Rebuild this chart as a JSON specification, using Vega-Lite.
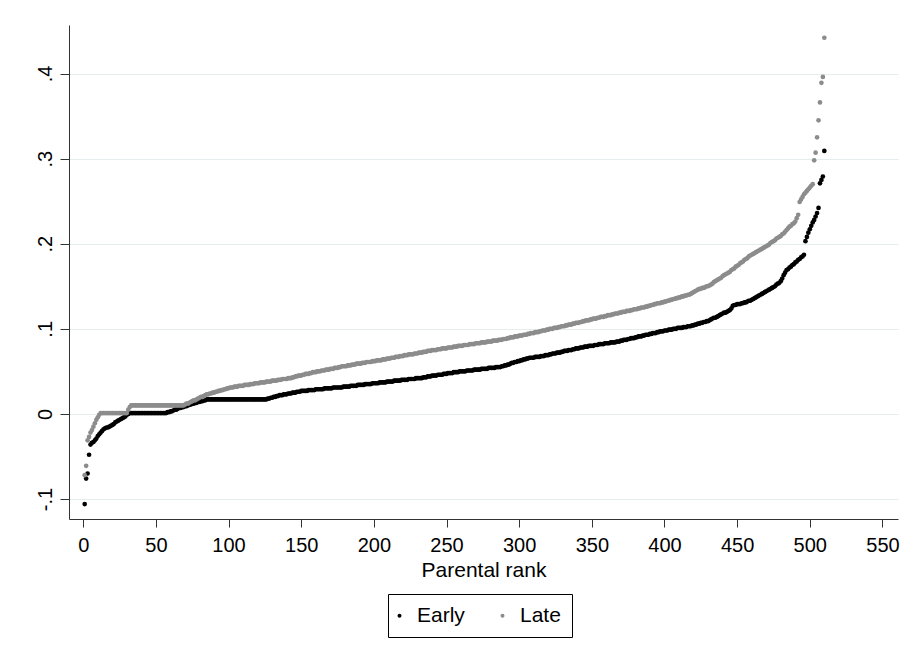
{"$schema":"https://vega.github.io/schema/vega-lite/v6.json","autosize":{"type":"none"},"padding":{"left":69,"top":25,"right":22,"bottom":147},"width":829,"height":494,"background":"white","config":{"font":"Liberation Sans","view":{"stroke":null}},
"data":{"values":[
{"rank":1,"Early":-0.106,"Late":-0.072},{"rank":2,"Early":-0.076,"Late":-0.061},{"rank":3,"Early":-0.070,"Late":-0.031},{"rank":4,"Early":-0.048,"Late":-0.027},{"rank":5,"Early":-0.036,"Late":-0.022},{"rank":6,"Early":-0.034,"Late":-0.019},{"rank":7,"Early":-0.033,"Late":-0.015},{"rank":8,"Early":-0.031,"Late":-0.011},{"rank":9,"Early":-0.029,"Late":-0.007},{"rank":10,"Early":-0.026,"Late":-0.004},
{"rank":11,"Early":-0.024,"Late":-0.001},{"rank":12,"Early":-0.022,"Late":0.001},{"rank":13,"Early":-0.020,"Late":0.001},{"rank":14,"Early":-0.018,"Late":0.001},{"rank":15,"Early":-0.017,"Late":0.001},{"rank":16,"Early":-0.016,"Late":0.001},{"rank":17,"Early":-0.016,"Late":0.001},{"rank":18,"Early":-0.015,"Late":0.001},{"rank":19,"Early":-0.014,"Late":0.001},{"rank":20,"Early":-0.013,"Late":0.001},
{"rank":21,"Early":-0.012,"Late":0.001},{"rank":22,"Early":-0.010,"Late":0.001},{"rank":23,"Early":-0.009,"Late":0.001},{"rank":24,"Early":-0.008,"Late":0.001},{"rank":25,"Early":-0.007,"Late":0.001},{"rank":26,"Early":-0.006,"Late":0.001},{"rank":27,"Early":-0.005,"Late":0.001},{"rank":28,"Early":-0.004,"Late":0.001},{"rank":29,"Early":-0.003,"Late":0.001},{"rank":30,"Early":-0.001,"Late":0.001},
{"rank":31,"Early":0.000,"Late":0.005},{"rank":32,"Early":0.001,"Late":0.008},{"rank":33,"Early":0.001,"Late":0.010},{"rank":34,"Early":0.001,"Late":0.010},{"rank":35,"Early":0.001,"Late":0.010},{"rank":36,"Early":0.001,"Late":0.010},{"rank":37,"Early":0.001,"Late":0.010},{"rank":38,"Early":0.001,"Late":0.010},{"rank":39,"Early":0.001,"Late":0.010},{"rank":40,"Early":0.001,"Late":0.010},
{"rank":41,"Early":0.001,"Late":0.010},{"rank":42,"Early":0.001,"Late":0.010},{"rank":43,"Early":0.001,"Late":0.010},{"rank":44,"Early":0.001,"Late":0.010},{"rank":45,"Early":0.001,"Late":0.010},{"rank":46,"Early":0.001,"Late":0.010},{"rank":47,"Early":0.001,"Late":0.010},{"rank":48,"Early":0.001,"Late":0.010},{"rank":49,"Early":0.001,"Late":0.010},{"rank":50,"Early":0.001,"Late":0.010},
{"rank":51,"Early":0.001,"Late":0.010},{"rank":52,"Early":0.001,"Late":0.010},{"rank":53,"Early":0.001,"Late":0.010},{"rank":54,"Early":0.001,"Late":0.010},{"rank":55,"Early":0.001,"Late":0.010},{"rank":56,"Early":0.001,"Late":0.010},{"rank":57,"Early":0.001,"Late":0.010},{"rank":58,"Early":0.002,"Late":0.010},{"rank":59,"Early":0.002,"Late":0.010},{"rank":60,"Early":0.003,"Late":0.010},
{"rank":61,"Early":0.003,"Late":0.010},{"rank":62,"Early":0.004,"Late":0.010},{"rank":63,"Early":0.005,"Late":0.010},{"rank":64,"Early":0.005,"Late":0.010},{"rank":65,"Early":0.006,"Late":0.010},{"rank":66,"Early":0.007,"Late":0.010},{"rank":67,"Early":0.007,"Late":0.010},{"rank":68,"Early":0.008,"Late":0.010},{"rank":69,"Early":0.008,"Late":0.010},{"rank":70,"Early":0.009,"Late":0.011},
{"rank":71,"Early":0.009,"Late":0.012},{"rank":72,"Early":0.010,"Late":0.012},{"rank":73,"Early":0.011,"Late":0.013},{"rank":74,"Early":0.011,"Late":0.014},{"rank":75,"Early":0.012,"Late":0.015},{"rank":76,"Early":0.012,"Late":0.016},{"rank":77,"Early":0.013,"Late":0.016},{"rank":78,"Early":0.013,"Late":0.017},{"rank":79,"Early":0.014,"Late":0.018},{"rank":80,"Early":0.014,"Late":0.019},
{"rank":81,"Early":0.015,"Late":0.020},{"rank":82,"Early":0.015,"Late":0.020},{"rank":83,"Early":0.016,"Late":0.021},{"rank":84,"Early":0.016,"Late":0.022},{"rank":85,"Early":0.017,"Late":0.023},{"rank":86,"Early":0.017,"Late":0.023},{"rank":87,"Early":0.017,"Late":0.024},{"rank":88,"Early":0.017,"Late":0.024},{"rank":89,"Early":0.017,"Late":0.025},{"rank":90,"Early":0.017,"Late":0.025},
{"rank":91,"Early":0.017,"Late":0.026},{"rank":92,"Early":0.017,"Late":0.026},{"rank":93,"Early":0.017,"Late":0.027},{"rank":94,"Early":0.017,"Late":0.027},{"rank":95,"Early":0.017,"Late":0.028},{"rank":96,"Early":0.017,"Late":0.028},{"rank":97,"Early":0.017,"Late":0.029},{"rank":98,"Early":0.017,"Late":0.029},{"rank":99,"Early":0.017,"Late":0.030},{"rank":100,"Early":0.017,"Late":0.030},
{"rank":101,"Early":0.017,"Late":0.031},{"rank":102,"Early":0.017,"Late":0.031},{"rank":103,"Early":0.017,"Late":0.031},{"rank":104,"Early":0.017,"Late":0.032},{"rank":105,"Early":0.017,"Late":0.032},{"rank":106,"Early":0.017,"Late":0.032},{"rank":107,"Early":0.017,"Late":0.033},{"rank":108,"Early":0.017,"Late":0.033},{"rank":109,"Early":0.017,"Late":0.033},{"rank":110,"Early":0.017,"Late":0.033},
{"rank":111,"Early":0.017,"Late":0.034},{"rank":112,"Early":0.017,"Late":0.034},{"rank":113,"Early":0.017,"Late":0.034},{"rank":114,"Early":0.017,"Late":0.034},{"rank":115,"Early":0.017,"Late":0.035},{"rank":116,"Early":0.017,"Late":0.035},{"rank":117,"Early":0.017,"Late":0.035},{"rank":118,"Early":0.017,"Late":0.036},{"rank":119,"Early":0.017,"Late":0.036},{"rank":120,"Early":0.017,"Late":0.036},
{"rank":121,"Early":0.017,"Late":0.036},{"rank":122,"Early":0.017,"Late":0.037},{"rank":123,"Early":0.017,"Late":0.037},{"rank":124,"Early":0.017,"Late":0.037},{"rank":125,"Early":0.017,"Late":0.037},{"rank":126,"Early":0.017,"Late":0.038},{"rank":127,"Early":0.018,"Late":0.038},{"rank":128,"Early":0.018,"Late":0.038},{"rank":129,"Early":0.019,"Late":0.038},{"rank":130,"Early":0.019,"Late":0.039},
{"rank":131,"Early":0.020,"Late":0.039},{"rank":132,"Early":0.020,"Late":0.039},{"rank":133,"Early":0.021,"Late":0.039},{"rank":134,"Early":0.021,"Late":0.040},{"rank":135,"Early":0.022,"Late":0.040},{"rank":136,"Early":0.022,"Late":0.040},{"rank":137,"Early":0.022,"Late":0.041},{"rank":138,"Early":0.023,"Late":0.041},{"rank":139,"Early":0.023,"Late":0.041},{"rank":140,"Early":0.023,"Late":0.041},
{"rank":141,"Early":0.024,"Late":0.042},{"rank":142,"Early":0.024,"Late":0.042},{"rank":143,"Early":0.024,"Late":0.042},{"rank":144,"Early":0.025,"Late":0.043},{"rank":145,"Early":0.025,"Late":0.043},{"rank":146,"Early":0.025,"Late":0.044},{"rank":147,"Early":0.026,"Late":0.044},{"rank":148,"Early":0.026,"Late":0.045},{"rank":149,"Early":0.026,"Late":0.045},{"rank":150,"Early":0.027,"Late":0.045},
{"rank":151,"Early":0.027,"Late":0.046},{"rank":152,"Early":0.027,"Late":0.046},{"rank":153,"Early":0.027,"Late":0.047},{"rank":154,"Early":0.027,"Late":0.047},{"rank":155,"Early":0.028,"Late":0.047},{"rank":156,"Early":0.028,"Late":0.048},{"rank":157,"Early":0.028,"Late":0.048},{"rank":158,"Early":0.028,"Late":0.049},{"rank":159,"Early":0.028,"Late":0.049},{"rank":160,"Early":0.029,"Late":0.049},
{"rank":161,"Early":0.029,"Late":0.050},{"rank":162,"Early":0.029,"Late":0.050},{"rank":163,"Early":0.029,"Late":0.050},{"rank":164,"Early":0.029,"Late":0.051},{"rank":165,"Early":0.029,"Late":0.051},{"rank":166,"Early":0.030,"Late":0.051},{"rank":167,"Early":0.030,"Late":0.052},{"rank":168,"Early":0.030,"Late":0.052},{"rank":169,"Early":0.030,"Late":0.052},{"rank":170,"Early":0.030,"Late":0.053},
{"rank":171,"Early":0.030,"Late":0.053},{"rank":172,"Early":0.031,"Late":0.053},{"rank":173,"Early":0.031,"Late":0.054},{"rank":174,"Early":0.031,"Late":0.054},{"rank":175,"Early":0.031,"Late":0.054},{"rank":176,"Early":0.031,"Late":0.055},{"rank":177,"Early":0.031,"Late":0.055},{"rank":178,"Early":0.031,"Late":0.056},{"rank":179,"Early":0.032,"Late":0.056},{"rank":180,"Early":0.032,"Late":0.056},
{"rank":181,"Early":0.032,"Late":0.056},{"rank":182,"Early":0.032,"Late":0.057},{"rank":183,"Early":0.032,"Late":0.057},{"rank":184,"Early":0.033,"Late":0.057},{"rank":185,"Early":0.033,"Late":0.058},{"rank":186,"Early":0.033,"Late":0.058},{"rank":187,"Early":0.033,"Late":0.058},{"rank":188,"Early":0.033,"Late":0.059},{"rank":189,"Early":0.034,"Late":0.059},{"rank":190,"Early":0.034,"Late":0.059},
{"rank":191,"Early":0.034,"Late":0.059},{"rank":192,"Early":0.034,"Late":0.060},{"rank":193,"Early":0.034,"Late":0.060},{"rank":194,"Early":0.035,"Late":0.060},{"rank":195,"Early":0.035,"Late":0.061},{"rank":196,"Early":0.035,"Late":0.061},{"rank":197,"Early":0.035,"Late":0.061},{"rank":198,"Early":0.035,"Late":0.061},{"rank":199,"Early":0.036,"Late":0.062},{"rank":200,"Early":0.036,"Late":0.062},
{"rank":201,"Early":0.036,"Late":0.062},{"rank":202,"Early":0.036,"Late":0.063},{"rank":203,"Early":0.036,"Late":0.063},{"rank":204,"Early":0.037,"Late":0.063},{"rank":205,"Early":0.037,"Late":0.063},{"rank":206,"Early":0.037,"Late":0.064},{"rank":207,"Early":0.037,"Late":0.064},{"rank":208,"Early":0.037,"Late":0.064},{"rank":209,"Early":0.038,"Late":0.065},{"rank":210,"Early":0.038,"Late":0.065},
{"rank":211,"Early":0.038,"Late":0.065},{"rank":212,"Early":0.038,"Late":0.066},{"rank":213,"Early":0.038,"Late":0.066},{"rank":214,"Early":0.039,"Late":0.066},{"rank":215,"Early":0.039,"Late":0.067},{"rank":216,"Early":0.039,"Late":0.067},{"rank":217,"Early":0.039,"Late":0.067},{"rank":218,"Early":0.039,"Late":0.068},{"rank":219,"Early":0.040,"Late":0.068},{"rank":220,"Early":0.040,"Late":0.068},
{"rank":221,"Early":0.040,"Late":0.069},{"rank":222,"Early":0.040,"Late":0.069},{"rank":223,"Early":0.040,"Late":0.069},{"rank":224,"Early":0.041,"Late":0.070},{"rank":225,"Early":0.041,"Late":0.070},{"rank":226,"Early":0.041,"Late":0.070},{"rank":227,"Early":0.041,"Late":0.070},{"rank":228,"Early":0.041,"Late":0.071},{"rank":229,"Early":0.042,"Late":0.071},{"rank":230,"Early":0.042,"Late":0.071},
{"rank":231,"Early":0.042,"Late":0.072},{"rank":232,"Early":0.042,"Late":0.072},{"rank":233,"Early":0.042,"Late":0.072},{"rank":234,"Early":0.043,"Late":0.073},{"rank":235,"Early":0.043,"Late":0.073},{"rank":236,"Early":0.043,"Late":0.073},{"rank":237,"Early":0.044,"Late":0.074},{"rank":238,"Early":0.044,"Late":0.074},{"rank":239,"Early":0.044,"Late":0.074},{"rank":240,"Early":0.045,"Late":0.075},
{"rank":241,"Early":0.045,"Late":0.075},{"rank":242,"Early":0.045,"Late":0.075},{"rank":243,"Early":0.045,"Late":0.075},{"rank":244,"Early":0.046,"Late":0.076},{"rank":245,"Early":0.046,"Late":0.076},{"rank":246,"Early":0.046,"Late":0.076},{"rank":247,"Early":0.046,"Late":0.077},{"rank":248,"Early":0.047,"Late":0.077},{"rank":249,"Early":0.047,"Late":0.077},{"rank":250,"Early":0.047,"Late":0.077},
{"rank":251,"Early":0.048,"Late":0.078},{"rank":252,"Early":0.048,"Late":0.078},{"rank":253,"Early":0.048,"Late":0.078},{"rank":254,"Early":0.048,"Late":0.078},{"rank":255,"Early":0.049,"Late":0.079},{"rank":256,"Early":0.049,"Late":0.079},{"rank":257,"Early":0.049,"Late":0.079},{"rank":258,"Early":0.049,"Late":0.080},{"rank":259,"Early":0.050,"Late":0.080},{"rank":260,"Early":0.050,"Late":0.080},
{"rank":261,"Early":0.050,"Late":0.080},{"rank":262,"Early":0.050,"Late":0.081},{"rank":263,"Early":0.050,"Late":0.081},{"rank":264,"Early":0.051,"Late":0.081},{"rank":265,"Early":0.051,"Late":0.081},{"rank":266,"Early":0.051,"Late":0.082},{"rank":267,"Early":0.051,"Late":0.082},{"rank":268,"Early":0.051,"Late":0.082},{"rank":269,"Early":0.052,"Late":0.082},{"rank":270,"Early":0.052,"Late":0.083},
{"rank":271,"Early":0.052,"Late":0.083},{"rank":272,"Early":0.052,"Late":0.083},{"rank":273,"Early":0.052,"Late":0.083},{"rank":274,"Early":0.053,"Late":0.084},{"rank":275,"Early":0.053,"Late":0.084},{"rank":276,"Early":0.053,"Late":0.084},{"rank":277,"Early":0.053,"Late":0.084},{"rank":278,"Early":0.053,"Late":0.085},{"rank":279,"Early":0.054,"Late":0.085},{"rank":280,"Early":0.054,"Late":0.085},
{"rank":281,"Early":0.054,"Late":0.085},{"rank":282,"Early":0.054,"Late":0.086},{"rank":283,"Early":0.054,"Late":0.086},{"rank":284,"Early":0.055,"Late":0.086},{"rank":285,"Early":0.055,"Late":0.086},{"rank":286,"Early":0.055,"Late":0.087},{"rank":287,"Early":0.055,"Late":0.087},{"rank":288,"Early":0.056,"Late":0.087},{"rank":289,"Early":0.056,"Late":0.088},{"rank":290,"Early":0.057,"Late":0.088},
{"rank":291,"Early":0.057,"Late":0.088},{"rank":292,"Early":0.058,"Late":0.089},{"rank":293,"Early":0.058,"Late":0.089},{"rank":294,"Early":0.059,"Late":0.090},{"rank":295,"Early":0.060,"Late":0.090},{"rank":296,"Early":0.060,"Late":0.090},{"rank":297,"Early":0.061,"Late":0.091},{"rank":298,"Early":0.061,"Late":0.091},{"rank":299,"Early":0.062,"Late":0.091},{"rank":300,"Early":0.062,"Late":0.092},
{"rank":301,"Early":0.063,"Late":0.092},{"rank":302,"Early":0.063,"Late":0.092},{"rank":303,"Early":0.064,"Late":0.093},{"rank":304,"Early":0.064,"Late":0.093},{"rank":305,"Early":0.065,"Late":0.093},{"rank":306,"Early":0.065,"Late":0.094},{"rank":307,"Early":0.066,"Late":0.094},{"rank":308,"Early":0.066,"Late":0.095},{"rank":309,"Early":0.066,"Late":0.095},{"rank":310,"Early":0.066,"Late":0.095},
{"rank":311,"Early":0.067,"Late":0.096},{"rank":312,"Early":0.067,"Late":0.096},{"rank":313,"Early":0.067,"Late":0.096},{"rank":314,"Early":0.067,"Late":0.097},{"rank":315,"Early":0.068,"Late":0.097},{"rank":316,"Early":0.068,"Late":0.098},{"rank":317,"Early":0.068,"Late":0.098},{"rank":318,"Early":0.069,"Late":0.098},{"rank":319,"Early":0.069,"Late":0.099},{"rank":320,"Early":0.069,"Late":0.099},
{"rank":321,"Early":0.070,"Late":0.100},{"rank":322,"Early":0.070,"Late":0.100},{"rank":323,"Early":0.071,"Late":0.100},{"rank":324,"Early":0.071,"Late":0.101},{"rank":325,"Early":0.071,"Late":0.101},{"rank":326,"Early":0.072,"Late":0.101},{"rank":327,"Early":0.072,"Late":0.102},{"rank":328,"Early":0.072,"Late":0.102},{"rank":329,"Early":0.073,"Late":0.103},{"rank":330,"Early":0.073,"Late":0.103},
{"rank":331,"Early":0.074,"Late":0.103},{"rank":332,"Early":0.074,"Late":0.104},{"rank":333,"Early":0.074,"Late":0.104},{"rank":334,"Early":0.075,"Late":0.105},{"rank":335,"Early":0.075,"Late":0.105},{"rank":336,"Early":0.075,"Late":0.105},{"rank":337,"Early":0.076,"Late":0.106},{"rank":338,"Early":0.076,"Late":0.106},{"rank":339,"Early":0.077,"Late":0.107},{"rank":340,"Early":0.077,"Late":0.107},
{"rank":341,"Early":0.077,"Late":0.107},{"rank":342,"Early":0.078,"Late":0.108},{"rank":343,"Early":0.078,"Late":0.108},{"rank":344,"Early":0.078,"Late":0.109},{"rank":345,"Early":0.079,"Late":0.109},{"rank":346,"Early":0.079,"Late":0.110},{"rank":347,"Early":0.079,"Late":0.110},{"rank":348,"Early":0.080,"Late":0.110},{"rank":349,"Early":0.080,"Late":0.111},{"rank":350,"Early":0.080,"Late":0.111},
{"rank":351,"Early":0.080,"Late":0.112},{"rank":352,"Early":0.081,"Late":0.112},{"rank":353,"Early":0.081,"Late":0.112},{"rank":354,"Early":0.081,"Late":0.113},{"rank":355,"Early":0.082,"Late":0.113},{"rank":356,"Early":0.082,"Late":0.114},{"rank":357,"Early":0.082,"Late":0.114},{"rank":358,"Early":0.082,"Late":0.114},{"rank":359,"Early":0.083,"Late":0.115},{"rank":360,"Early":0.083,"Late":0.115},
{"rank":361,"Early":0.083,"Late":0.116},{"rank":362,"Early":0.083,"Late":0.116},{"rank":363,"Early":0.084,"Late":0.116},{"rank":364,"Early":0.084,"Late":0.117},{"rank":365,"Early":0.084,"Late":0.117},{"rank":366,"Early":0.084,"Late":0.118},{"rank":367,"Early":0.085,"Late":0.118},{"rank":368,"Early":0.085,"Late":0.118},{"rank":369,"Early":0.085,"Late":0.119},{"rank":370,"Early":0.086,"Late":0.119},
{"rank":371,"Early":0.086,"Late":0.120},{"rank":372,"Early":0.087,"Late":0.120},{"rank":373,"Early":0.087,"Late":0.120},{"rank":374,"Early":0.087,"Late":0.121},{"rank":375,"Early":0.088,"Late":0.121},{"rank":376,"Early":0.088,"Late":0.121},{"rank":377,"Early":0.089,"Late":0.122},{"rank":378,"Early":0.089,"Late":0.122},{"rank":379,"Early":0.089,"Late":0.123},{"rank":380,"Early":0.090,"Late":0.123},
{"rank":381,"Early":0.090,"Late":0.123},{"rank":382,"Early":0.091,"Late":0.124},{"rank":383,"Early":0.091,"Late":0.124},{"rank":384,"Early":0.091,"Late":0.125},{"rank":385,"Early":0.092,"Late":0.125},{"rank":386,"Early":0.092,"Late":0.125},{"rank":387,"Early":0.093,"Late":0.126},{"rank":388,"Early":0.093,"Late":0.126},{"rank":389,"Early":0.093,"Late":0.127},{"rank":390,"Early":0.094,"Late":0.127},
{"rank":391,"Early":0.094,"Late":0.128},{"rank":392,"Early":0.095,"Late":0.128},{"rank":393,"Early":0.095,"Late":0.129},{"rank":394,"Early":0.095,"Late":0.129},{"rank":395,"Early":0.096,"Late":0.130},{"rank":396,"Early":0.096,"Late":0.130},{"rank":397,"Early":0.097,"Late":0.130},{"rank":398,"Early":0.097,"Late":0.131},{"rank":399,"Early":0.097,"Late":0.131},{"rank":400,"Early":0.098,"Late":0.132},
{"rank":401,"Early":0.098,"Late":0.132},{"rank":402,"Early":0.098,"Late":0.133},{"rank":403,"Early":0.099,"Late":0.133},{"rank":404,"Early":0.099,"Late":0.134},{"rank":405,"Early":0.099,"Late":0.134},{"rank":406,"Early":0.100,"Late":0.135},{"rank":407,"Early":0.100,"Late":0.135},{"rank":408,"Early":0.100,"Late":0.136},{"rank":409,"Early":0.101,"Late":0.136},{"rank":410,"Early":0.101,"Late":0.137},
{"rank":411,"Early":0.101,"Late":0.137},{"rank":412,"Early":0.101,"Late":0.138},{"rank":413,"Early":0.102,"Late":0.138},{"rank":414,"Early":0.102,"Late":0.139},{"rank":415,"Early":0.102,"Late":0.139},{"rank":416,"Early":0.103,"Late":0.140},{"rank":417,"Early":0.103,"Late":0.140},{"rank":418,"Early":0.103,"Late":0.141},{"rank":419,"Early":0.104,"Late":0.142},{"rank":420,"Early":0.104,"Late":0.143},
{"rank":421,"Early":0.105,"Late":0.144},{"rank":422,"Early":0.105,"Late":0.145},{"rank":423,"Early":0.106,"Late":0.146},{"rank":424,"Early":0.106,"Late":0.147},{"rank":425,"Early":0.107,"Late":0.147},{"rank":426,"Early":0.107,"Late":0.148},{"rank":427,"Early":0.108,"Late":0.148},{"rank":428,"Early":0.108,"Late":0.149},{"rank":429,"Early":0.109,"Late":0.150},{"rank":430,"Early":0.109,"Late":0.150},
{"rank":431,"Early":0.110,"Late":0.151},{"rank":432,"Early":0.111,"Late":0.152},{"rank":433,"Early":0.112,"Late":0.153},{"rank":434,"Early":0.113,"Late":0.155},{"rank":435,"Early":0.113,"Late":0.156},{"rank":436,"Early":0.114,"Late":0.157},{"rank":437,"Early":0.115,"Late":0.158},{"rank":438,"Early":0.116,"Late":0.159},{"rank":439,"Early":0.117,"Late":0.160},{"rank":440,"Early":0.118,"Late":0.162},
{"rank":441,"Early":0.119,"Late":0.163},{"rank":442,"Early":0.119,"Late":0.164},{"rank":443,"Early":0.120,"Late":0.165},{"rank":444,"Early":0.121,"Late":0.166},{"rank":445,"Early":0.122,"Late":0.167},{"rank":446,"Early":0.124,"Late":0.169},{"rank":447,"Early":0.127,"Late":0.170},{"rank":448,"Early":0.128,"Late":0.171},{"rank":449,"Early":0.128,"Late":0.173},{"rank":450,"Early":0.129,"Late":0.174},
{"rank":451,"Early":0.129,"Late":0.175},{"rank":452,"Early":0.129,"Late":0.177},{"rank":453,"Early":0.130,"Late":0.178},{"rank":454,"Early":0.130,"Late":0.179},{"rank":455,"Early":0.131,"Late":0.181},{"rank":456,"Early":0.131,"Late":0.182},{"rank":457,"Early":0.132,"Late":0.183},{"rank":458,"Early":0.133,"Late":0.185},{"rank":459,"Early":0.133,"Late":0.186},{"rank":460,"Early":0.134,"Late":0.187},
{"rank":461,"Early":0.135,"Late":0.188},{"rank":462,"Early":0.136,"Late":0.189},{"rank":463,"Early":0.137,"Late":0.190},{"rank":464,"Early":0.138,"Late":0.191},{"rank":465,"Early":0.139,"Late":0.192},{"rank":466,"Early":0.140,"Late":0.193},{"rank":467,"Early":0.141,"Late":0.194},{"rank":468,"Early":0.142,"Late":0.195},{"rank":469,"Early":0.143,"Late":0.196},{"rank":470,"Early":0.144,"Late":0.197},
{"rank":471,"Early":0.145,"Late":0.198},{"rank":472,"Early":0.146,"Late":0.199},{"rank":473,"Early":0.147,"Late":0.201},{"rank":474,"Early":0.148,"Late":0.202},{"rank":475,"Early":0.149,"Late":0.203},{"rank":476,"Early":0.150,"Late":0.204},{"rank":477,"Early":0.152,"Late":0.206},{"rank":478,"Early":0.153,"Late":0.207},{"rank":479,"Early":0.154,"Late":0.208},{"rank":480,"Early":0.156,"Late":0.209},
{"rank":481,"Early":0.159,"Late":0.211},{"rank":482,"Early":0.163,"Late":0.212},{"rank":483,"Early":0.166,"Late":0.214},{"rank":484,"Early":0.169,"Late":0.216},{"rank":485,"Early":0.170,"Late":0.218},{"rank":486,"Early":0.172,"Late":0.220},{"rank":487,"Early":0.173,"Late":0.221},{"rank":488,"Early":0.175,"Late":0.223},{"rank":489,"Early":0.176,"Late":0.224},{"rank":490,"Early":0.178,"Late":0.226},
{"rank":491,"Early":0.179,"Late":0.230},{"rank":492,"Early":0.181,"Late":0.234},{"rank":493,"Early":0.182,"Late":0.249},{"rank":494,"Early":0.184,"Late":0.252},{"rank":495,"Early":0.185,"Late":0.255},{"rank":496,"Early":0.187,"Late":0.258},{"rank":497,"Early":0.203,"Late":0.260},{"rank":498,"Early":0.208,"Late":0.262},{"rank":499,"Early":0.213,"Late":0.264},{"rank":500,"Early":0.217,"Late":0.266},
{"rank":501,"Early":0.221,"Late":0.268},{"rank":502,"Early":0.225,"Late":0.270},{"rank":503,"Early":0.228,"Late":0.298},{"rank":504,"Early":0.232,"Late":0.307},{"rank":505,"Early":0.236,"Late":0.325},{"rank":506,"Early":0.242,"Late":0.345},{"rank":507,"Early":0.271,"Late":0.366},{"rank":508,"Early":0.275,"Late":0.389},{"rank":509,"Early":0.279,"Late":0.396},{"rank":510,"Early":0.309,"Late":0.442}
]},
"transform":[{"fold":["Early","Late"],"as":["series","value"]}],
"mark":{"type":"point","filled":true,"size":22,"opacity":1,"strokeWidth":0},
"encoding":{
"x":{"field":"rank","type":"quantitative","scale":{"domain":[-9.8,560.7],"nice":false,"zero":false},"axis":{"title":"Parental rank","values":[0,50,100,150,200,250,300,350,400,450,500,550],"grid":false,"tickSize":8,"labelPadding":8,"labelFontSize":20,"titleFontSize":21,"titlePadding":4,"titleFontWeight":"normal","domainColor":"#333333","tickColor":"#333333","labelColor":"#000000","titleColor":"#000000","labelFlush":false,"labelOverlap":false}},
"y":{"field":"value","type":"quantitative","scale":{"domain":[-0.1235,0.457],"nice":false,"zero":false},"axis":{"title":null,"values":[-0.1,0,0.1,0.2,0.3,0.4],"grid":true,"gridColor":"#e4eded","gridWidth":1,"tickSize":9,"labelAngle":-90,"labelAlign":"center","labelBaseline":"bottom","labelPadding":5,"labelFontSize":20,"labelColor":"#000000","domainColor":"#333333","tickColor":"#333333","labelFlush":false,"labelOverlap":false,"labelExpr":"datum.value === 0 ? '0' : (datum.value < 0 ? '-' : '') + replace(format(abs(datum.value), '.1f'), '0.', '.')"}},
"color":{"field":"series","type":"nominal","scale":{"domain":["Early","Late"],"range":["#000000","#8c8c8c"]},"legend":{"title":null,"orient":"none","legendX":319,"legendY":569,"direction":"horizontal","strokeColor":"#000000","fillColor":"#ffffff","padding":11,"symbolType":"circle","symbolSize":16,"symbolStrokeWidth":0,"symbolOffset":-10,"labelFontSize":21,"labelOffset":7,"columnPadding":35,"labelColor":"#000000"}},
"order":{"field":"series","type":"ordinal"}
}}
